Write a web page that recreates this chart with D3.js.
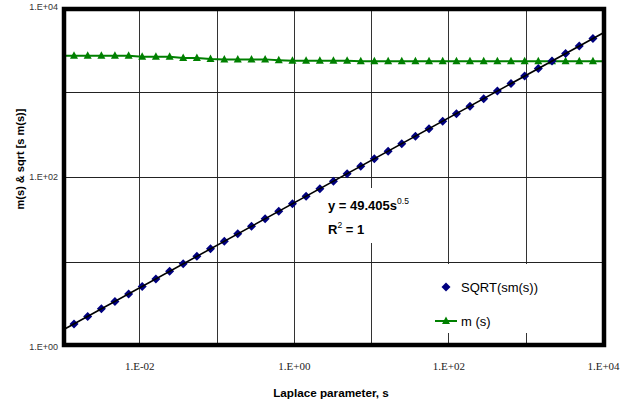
<!DOCTYPE html>
<html>
<head>
<meta charset="utf-8">
<script src="https://cdn.jsdelivr.net/npm/d3@7"></script>
<style>
  body { margin: 0; background: #fff; }
  text { font-family: "Liberation Sans", Arial, sans-serif; }
</style>
</head>
<body>
<div id="chart"></div>
<script>
// Laplace parameter s (first and last points sit just outside the axis range)
var sValues = [9.51e-4, 1.43e-3, 2.15e-3, 3.23e-3, 4.84e-3, 7.28e-3, 1.09e-2, 1.64e-2, 2.47e-2,
  3.70e-2, 5.56e-2, 8.35e-2, 0.126, 0.188, 0.283, 0.425, 0.638, 0.959, 1.44, 2.17, 3.25,
  4.89, 7.34, 11.0, 16.6, 24.9, 37.4, 56.1, 84.3, 127, 190, 286, 430, 645, 968, 1455,
  2188, 3281, 4932, 7413, 11140];
// SQRT(sm(s))
var sqrtValues = [1.52, 1.87, 2.29, 2.81, 3.44, 4.21, 5.16, 6.33, 7.76, 9.51, 11.65, 14.28,
  17.51, 21.45, 26.29, 32.23, 39.48, 48.41, 59.34, 72.74, 89.08, 109.2, 133.9, 164.0, 201.1,
  246.5, 302.2, 370.1, 453.7, 556.3, 681.3, 835.2, 1024, 1255, 1538, 1885, 2311, 2830, 3470,
  4255, 5216];
// m (s)
var mValues = [2670, 2670, 2670, 2670, 2670, 2670, 2590, 2590, 2590, 2510, 2510, 2450, 2420,
  2420, 2420, 2420, 2370, 2330, 2330, 2330, 2330, 2330, 2300, 2300, 2300, 2300, 2300, 2300,
  2300, 2300, 2300, 2300, 2300, 2300, 2300, 2300, 2300, 2300, 2300, 2300, 2300];

var xGrid = [1e-2, 1e-1, 1e0, 1e1, 1e2, 1e3];
var yGrid = [1e1, 1e2, 1e3];
var xTicks = [1e-2, 1e0, 1e2, 1e4];
var yTicks = [1e0, 1e2, 1e4];

// power trendline  y = 49.405 s^0.5
var trendA = 49.405, trendB = 0.5;

var width = 634, height = 406;
var svg = d3.select("#chart").append("svg")
  .attr("width", width).attr("height", height);

var x = d3.scaleLog().domain([1e-3, 1e4]).range([62, 603]);
var y = d3.scaleLog().domain([1, 1e4]).range([347, 7]);

function fmt(v) {
  var e = Math.round(Math.log10(v));
  var a = Math.abs(e);
  return "1.E" + (e < 0 ? "-" : "+") + (a < 10 ? "0" : "") + a;
}

// grid
svg.selectAll(".vgrid").data(xGrid).enter().append("line")
  .attr("x1", function(d){ return Math.round(x(d)) + 0.5; })
  .attr("x2", function(d){ return Math.round(x(d)) + 0.5; })
  .attr("y1", 7).attr("y2", 347)
  .style("stroke", "#333").style("stroke-width", 1);
svg.selectAll(".hgrid").data(yGrid).enter().append("line")
  .attr("y1", function(d){ return Math.round(y(d)) + 0.5; })
  .attr("y2", function(d){ return Math.round(y(d)) + 0.5; })
  .attr("x1", 62).attr("x2", 603)
  .style("stroke", "#222").style("stroke-width", 1);

// white boxes behind the trend label and legend
svg.append("rect").attr("x", 325).attr("y", 188).attr("width", 90).attr("height", 55)
  .style("fill", "#fff");
svg.append("rect").attr("x", 425).attr("y", 264).attr("width", 177).attr("height", 69)
  .style("fill", "#fff");

svg.append("clipPath").attr("id", "plotclip").append("rect")
  .attr("x", 62).attr("y", 7).attr("width", 541).attr("height", 340);

var plot = svg.append("g").attr("clip-path", "url(#plotclip)");

var diamond = "M0,-4.5L4.5,0L0,4.5L-4.5,0Z";
var triangle = "M0,-4.5L4,3L-4,3Z";

// m (s)
var mLine = d3.line()
  .x(function(d, i){ return x(sValues[i]); })
  .y(function(d){ return y(d); });
plot.append("path").datum(mValues)
  .attr("d", mLine)
  .style("fill", "none").style("stroke", "#008000").style("stroke-width", 2);
plot.selectAll(".tri").data(mValues).enter().append("path")
  .attr("d", triangle)
  .attr("transform", function(d, i){ return "translate(" + x(sValues[i]) + "," + y(d) + ")"; })
  .style("fill", "#008000");

// SQRT(sm(s))
plot.selectAll(".dia").data(sqrtValues).enter().append("path")
  .attr("d", diamond)
  .attr("transform", function(d, i){ return "translate(" + x(sValues[i]) + "," + y(d) + ")"; })
  .style("fill", "#000080");

// trendline across the axis range
var xd = x.domain();
plot.append("line")
  .attr("x1", x(xd[0])).attr("y1", y(trendA * Math.pow(xd[0], trendB)))
  .attr("x2", x(xd[1])).attr("y2", y(trendA * Math.pow(xd[1], trendB)))
  .style("stroke", "#000").style("stroke-width", 1.6);

// frame
svg.append("rect").attr("x", 64).attr("y", 9).attr("width", 540).attr("height", 336)
  .style("fill", "none").style("stroke", "#000").style("stroke-width", 4.5);

// axes (labels only)
var xAxis = svg.append("g").attr("transform", "translate(0,359)")
  .call(d3.axisBottom(x).tickValues(xTicks).tickFormat(fmt).tickSize(0));
xAxis.select(".domain").remove();
xAxis.selectAll("text")
  .style("font-family", "'Liberation Serif', serif").style("font-size", "11px")
  .style("fill", "#222");

var yAxis = svg.append("g").attr("transform", "translate(58,0)")
  .call(d3.axisLeft(y).tickValues(yTicks).tickFormat(fmt).tickSize(0).tickPadding(0));
yAxis.select(".domain").remove();
yAxis.selectAll("text")
  .style("font-family", "'Liberation Sans', sans-serif").style("font-size", "9px")
  .style("fill", "#333");

// titles
svg.append("text").attr("x", 331).attr("y", 397).attr("text-anchor", "middle")
  .style("font-weight", "bold").style("font-size", "11.7px")
  .text("Laplace parameter, s");
svg.append("text").attr("transform", "translate(24,159) rotate(-90)").attr("text-anchor", "middle")
  .style("font-weight", "bold").style("font-size", "11px")
  .text("m(s) & sqrt [s m(s)]");

// trend label
var t1 = svg.append("text").attr("x", 328).attr("y", 210)
  .style("font-weight", "bold").style("font-size", "13px");
t1.append("tspan").text("y = 49.405s");
t1.append("tspan").attr("dy", -6).style("font-size", "8.5px").style("font-weight", "normal").text("0.5");
var t2 = svg.append("text").attr("x", 328).attr("y", 234)
  .style("font-weight", "bold").style("font-size", "13px");
t2.append("tspan").text("R");
t2.append("tspan").attr("dy", -6).style("font-size", "8.5px").style("font-weight", "normal").text("2");
t2.append("tspan").attr("dy", 6).text(" = 1");

// legend
var lg = svg.append("g");
lg.append("path").attr("d", diamond).attr("transform", "translate(446,287)").style("fill", "#000080");
lg.append("text").attr("x", 461).attr("y", 292).style("font-size", "13px").text("SQRT(sm(s))");
lg.append("line").attr("x1", 435).attr("x2", 457).attr("y1", 321).attr("y2", 321)
  .style("stroke", "#008000").style("stroke-width", 2);
lg.append("path").attr("d", triangle).attr("transform", "translate(446,321)").style("fill", "#008000");
lg.append("text").attr("x", 461).attr("y", 326).style("font-size", "13px").text("m (s)");
</script>
</body>
</html>
